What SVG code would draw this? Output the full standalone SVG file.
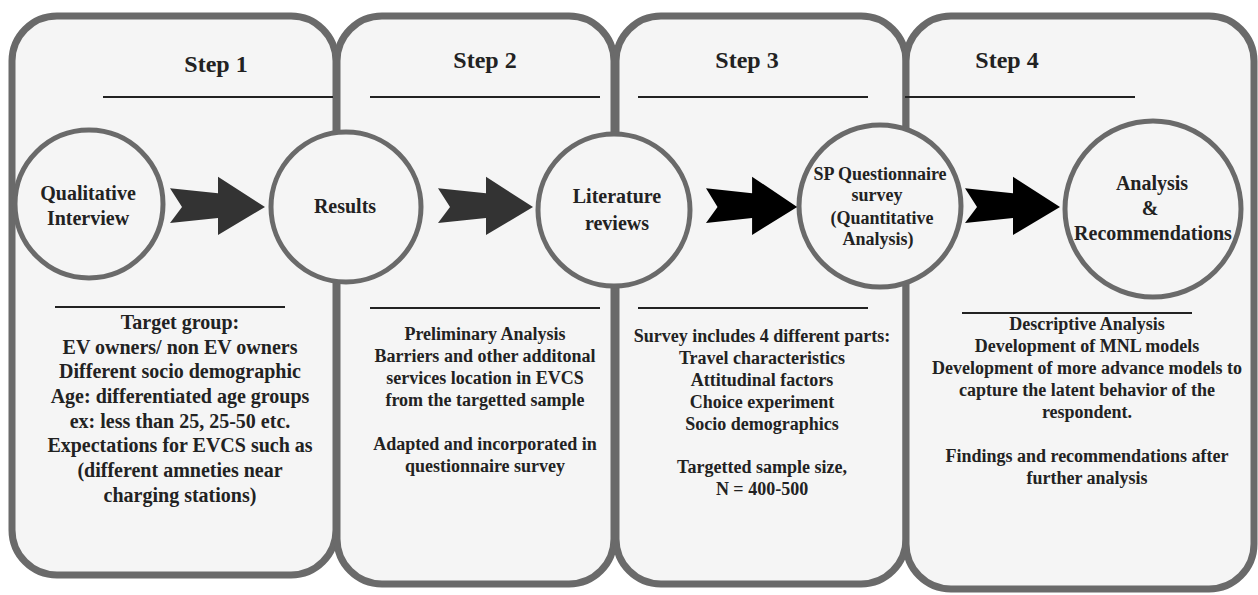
<svg xmlns="http://www.w3.org/2000/svg" xmlns:xlink="http://www.w3.org/1999/xlink" width="1258" height="595" viewBox="0 0 1258 595">
<style>
.panel{fill:#f5f5f5;stroke:#6a6a6a;stroke-width:7}
.node{fill:#f5f5f5;stroke:#6a6a6a;stroke-width:5}
.rule{stroke:#222;stroke-width:2}
text{font-family:'Liberation Serif','Times New Roman','DejaVu Serif',serif;font-weight:700;fill:#222;text-anchor:middle}
.step{font-size:24px}
.lbl{font-size:20px}
.body{font-size:18px}
.body1{font-size:20px}
</style>
<defs>
<path id="arrow" d="M0,-18.7 L48,-13.7 L48,-30.3 L95,0 L48,28 L48,11 L0,16 L12,0 Z"/>
</defs>
<rect width="1258" height="595" fill="#ffffff"/>
<g id="step1">
<rect class="panel" x="12" y="16" width="324" height="559" rx="45"/>
<text class="step" x="216" y="72" font-family="Liberation Serif">Step 1</text>
<line class="rule" x1="103" y1="97" x2="333" y2="97"/>
<line class="rule" x1="55" y1="307" x2="285" y2="307"/>
<text class="body1" x="180" font-family="Liberation Serif"><tspan x="180" y="329">Target group:</tspan><tspan x="180" y="354">EV owners/ non EV owners</tspan><tspan x="180" y="378">Different socio demographic</tspan><tspan x="180" y="403">Age: differentiated age groups</tspan><tspan x="180" y="428">ex: less than 25, 25-50 etc.</tspan><tspan x="180" y="452">Expectations for EVCS such as</tspan><tspan x="180" y="477">(different amneties near</tspan><tspan x="180" y="502">charging stations)</tspan></text>
</g>
<g id="step2">
<rect class="panel" x="337" y="16" width="277" height="568" rx="45"/>
<text class="step" x="485" y="68">Step 2</text>
<line class="rule" x1="370" y1="97" x2="600" y2="97"/>
<line class="rule" x1="370" y1="308" x2="600" y2="308"/>
<text class="body" x="485"><tspan x="485" y="340">Preliminary Analysis</tspan><tspan x="485" y="362">Barriers and other additonal</tspan><tspan x="485" y="384">services location in EVCS</tspan><tspan x="485" y="406">from the targetted sample</tspan><tspan x="485" y="450">Adapted and incorporated in</tspan><tspan x="485" y="472">questionnaire survey</tspan></text>
</g>
<g id="step3">
<rect class="panel" x="616" y="16" width="290" height="568" rx="45"/>
<text class="step" x="747" y="68">Step 3</text>
<line class="rule" x1="638" y1="97" x2="868" y2="97"/>
<line class="rule" x1="638" y1="308" x2="868" y2="308"/>
<text class="body" x="762"><tspan x="762" y="342">Survey includes 4 different parts:</tspan><tspan x="762" y="364">Travel characteristics</tspan><tspan x="762" y="386">Attitudinal factors</tspan><tspan x="762" y="408">Choice experiment</tspan><tspan x="762" y="430">Socio demographics</tspan><tspan x="762" y="473">Targetted sample size,</tspan><tspan x="762" y="495">N = 400-500</tspan></text>
</g>
<g id="step4">
<rect class="panel" x="906" y="16" width="348" height="573" rx="45"/>
<text class="step" x="1007" y="68">Step 4</text>
<line class="rule" x1="905" y1="97" x2="1135" y2="97"/>
<line class="rule" x1="962" y1="313" x2="1192" y2="313"/>
<text class="body" x="1087"><tspan x="1087" y="330">Descriptive Analysis</tspan><tspan x="1087" y="352">Development of MNL models</tspan><tspan x="1087" y="374">Development of more advance models to</tspan><tspan x="1087" y="396">capture the latent behavior of the</tspan><tspan x="1087" y="418">respondent.</tspan><tspan x="1087" y="462">Findings and recommendations after</tspan><tspan x="1087" y="484">further analysis</tspan></text>
</g>
<g id="qualitative-interview">
<circle class="node" cx="89" cy="204" r="74"/>
<text class="lbl" x="88"><tspan x="88" y="200">Qualitative</tspan><tspan x="88" y="225">Interview</tspan></text>
</g>
<g id="results">
<circle class="node" cx="346" cy="207" r="75"/>
<text class="lbl" x="345" y="213">Results</text>
</g>
<g id="literature-reviews">
<circle class="node" cx="614" cy="210" r="76"/>
<text class="lbl" x="617"><tspan x="617" y="203">Literature</tspan><tspan x="617" y="230">reviews</tspan></text>
</g>
<g id="sp-questionnaire">
<circle class="node" cx="880" cy="206" r="81"/>
<text class="body" x="880"><tspan x="880" y="180">SP Questionnaire</tspan><tspan x="877" y="201">survey</tspan><tspan x="882" y="224">(Quantitative</tspan><tspan x="878" y="245">Analysis)</tspan></text>
</g>
<g id="analysis-recommendations">
<circle class="node" cx="1153" cy="209" r="88"/>
<text class="lbl" x="1152"><tspan x="1152" y="190">Analysis</tspan><tspan x="1150" y="215">&amp;</tspan><tspan x="1153" y="240">Recommendations</tspan></text>
</g>
<g id="connectors">
<use xlink:href="#arrow" href="#arrow" transform="translate(170,207)" fill="#333333"/>
<use xlink:href="#arrow" href="#arrow" transform="translate(438,207)" fill="#333333"/>
<use xlink:href="#arrow" href="#arrow" transform="translate(706,207) scale(0.96,1)" fill="#000000"/>
<use xlink:href="#arrow" href="#arrow" transform="translate(965,207)" fill="#000000"/>
</g>
</svg>
